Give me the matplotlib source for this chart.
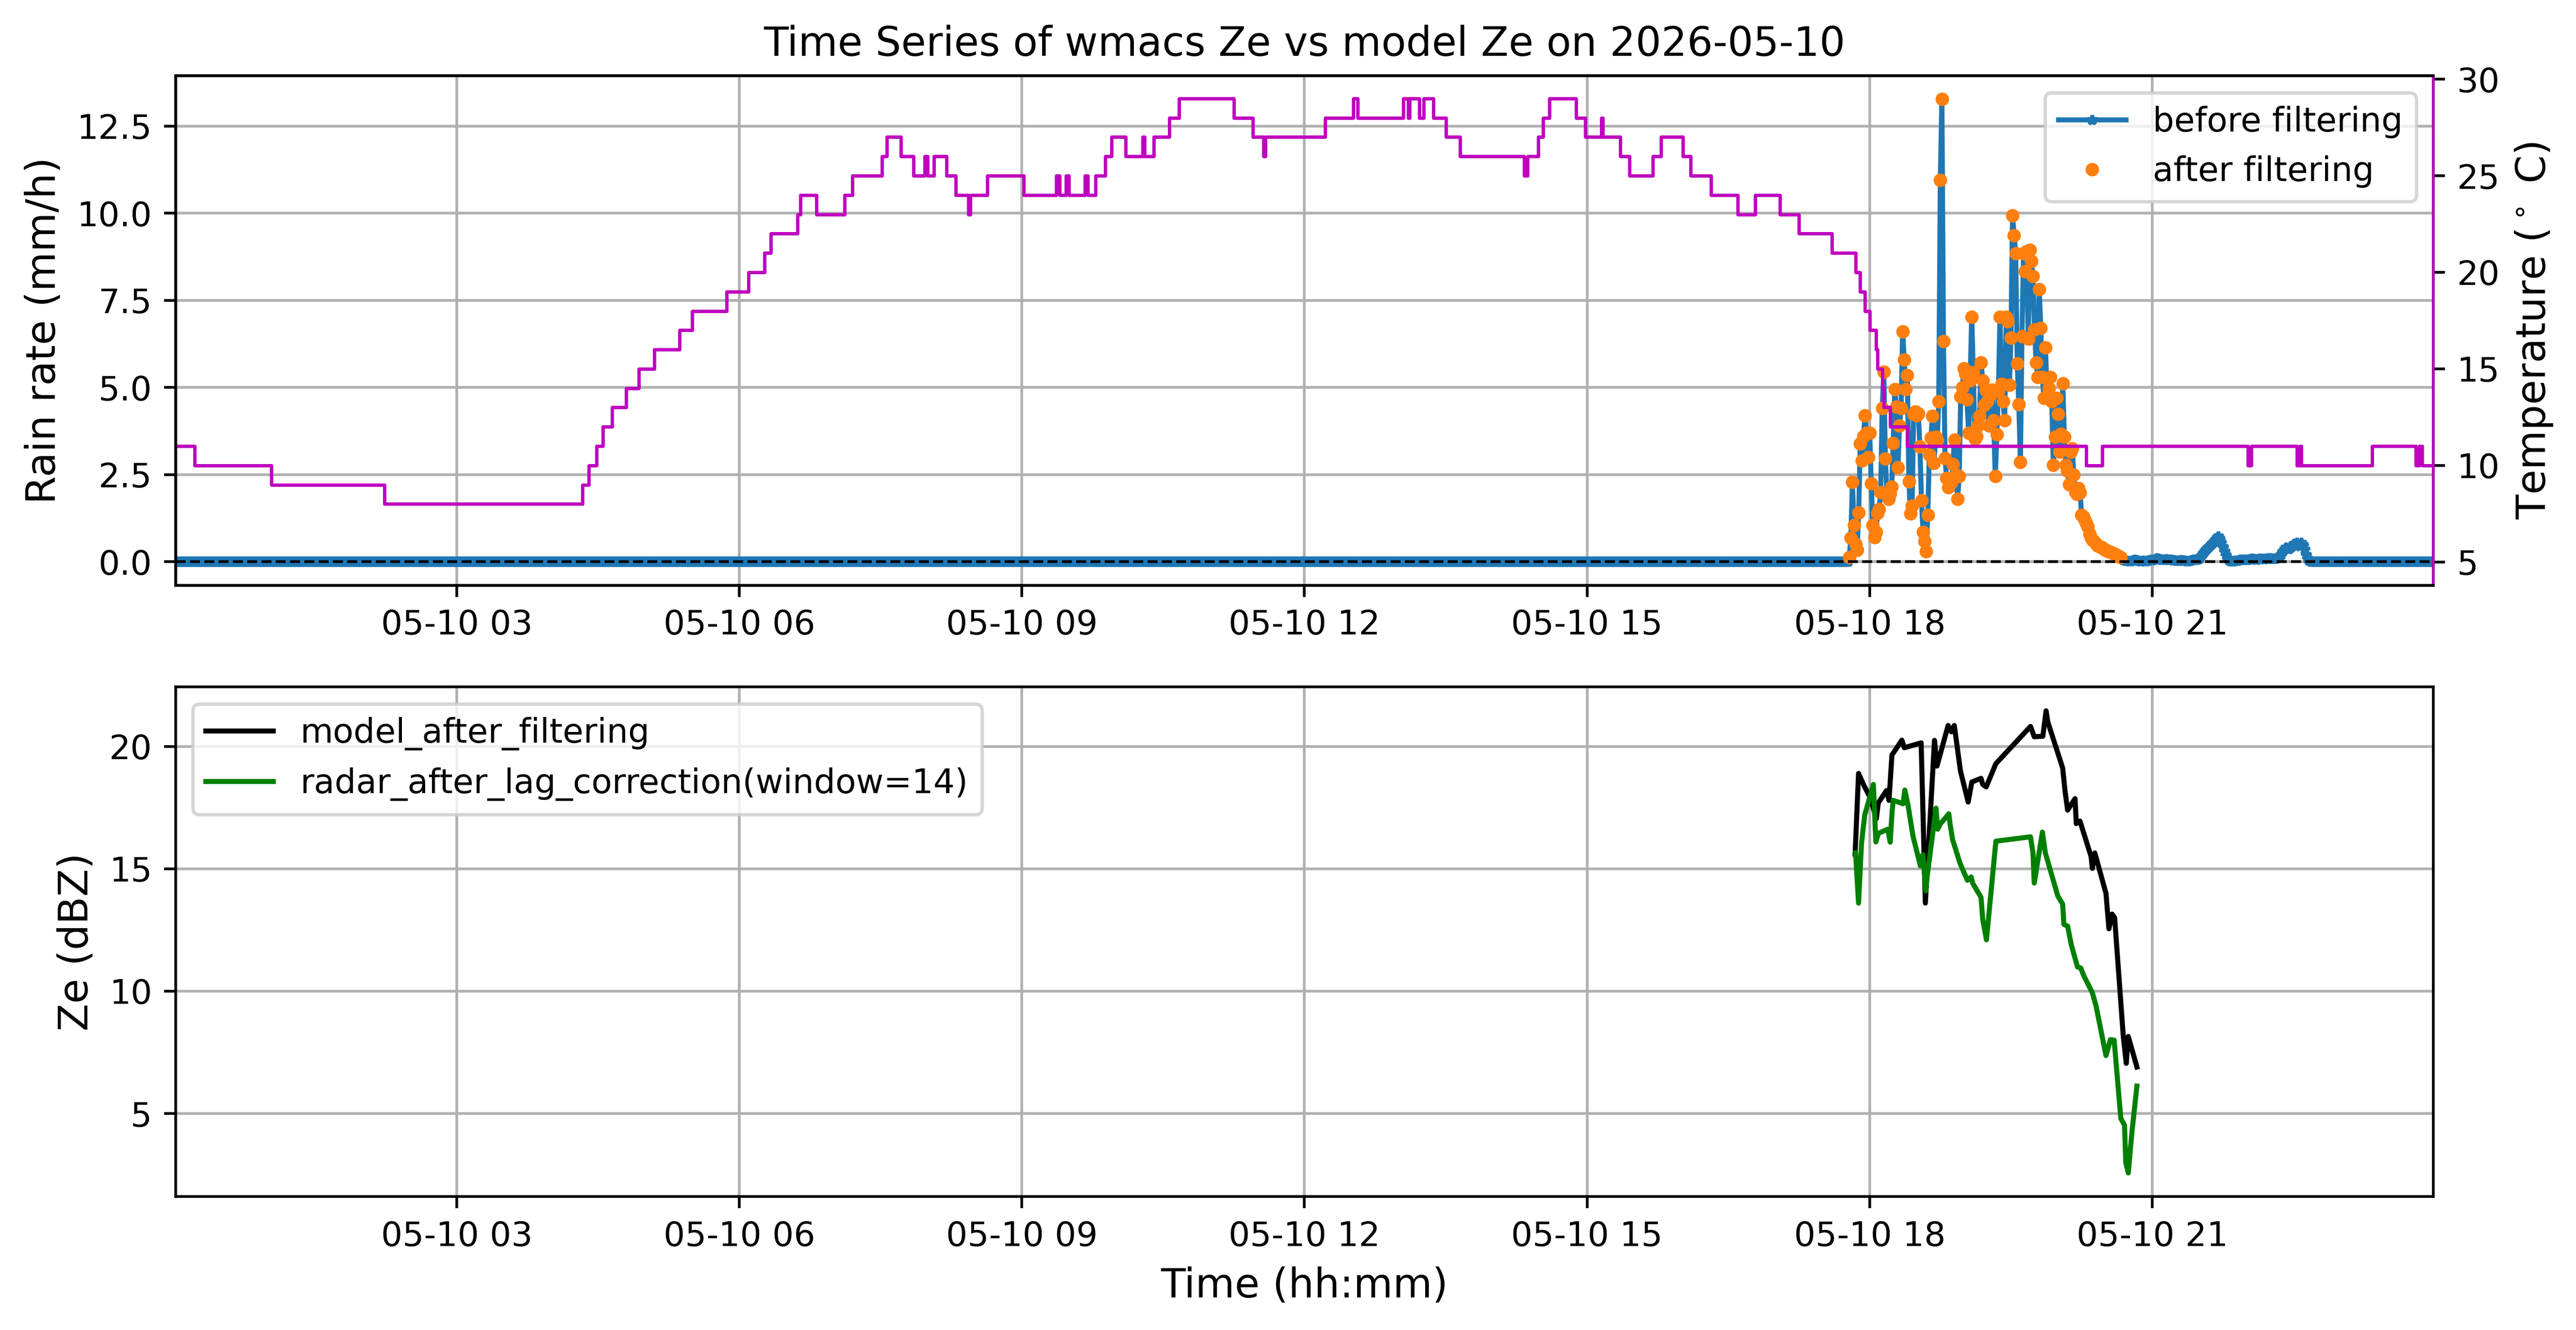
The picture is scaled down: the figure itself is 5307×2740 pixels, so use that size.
import matplotlib
matplotlib.use('Agg')
import matplotlib.pyplot as plt
import matplotlib.dates as mdates
import pandas as pd

day = '2026-05-10'

# rain rate (mm/h), one sample per minute
rain_dry_start = day + ' 00:01'
rain_dry = [0.0] * 1066          # 00:01 - 17:46, no rain at all

rain_event_start = day + ' 17:47'
rain_event = [
    0.12, 0.68, 2.29, 1.04, 0.50, 0.33, 1.41, 3.39, 2.90, 3.60, 4.20, 3.70, 3.00,
    3.70, 2.25, 1.05, 0.70, 0.85, 1.40, 1.50, 2.00, 4.40, 5.45,
    2.95, 1.95, 1.80, 1.95, 2.15, 3.40, 4.95, 4.45, 2.70, 3.90,
    4.40, 6.60, 5.80, 4.95, 5.35, 2.30, 1.38, 1.60, 4.23, 4.30,
    4.20, 4.25, 3.30, 1.75, 0.85, 0.59, 0.30, 1.34, 3.06, 3.55,
    4.18, 2.83, 3.58, 3.48, 4.60, 10.95, 13.28, 6.33, 2.97, 2.40,
    2.13, 2.35, 2.27, 2.80, 3.50, 2.50, 1.80, 2.45, 4.74, 5.00,
    5.54, 5.40, 4.65, 3.70, 5.20, 7.03, 5.44, 3.53, 3.60, 3.90,
    4.18, 5.72, 5.20, 4.50, 4.93, 4.60, 3.90, 4.80, 4.93, 4.05,
    2.45, 3.65, 4.90, 7.03, 5.10, 4.60, 4.05, 7.03, 6.90, 5.07,
    6.42, 9.93, 9.37, 8.85, 5.68, 4.51, 2.86, 6.47, 8.85, 8.34,
    8.90, 6.40, 8.95, 8.62, 8.20, 6.66, 5.72, 5.30, 7.82, 6.70,
    5.30, 4.70, 6.14, 4.70, 4.98, 5.30, 4.60, 2.78, 3.58, 4.70,
    4.23, 3.15, 3.67, 5.12, 3.58, 2.78, 2.60, 2.22, 3.15, 3.25,
    2.50, 2.00, 1.94, 2.10, 1.98, 1.34, 1.30, 1.20, 1.10, 1.00,
    0.80, 0.68, 0.62, 0.58, 0.52, 0.46, 0.44, 0.42, 0.40, 0.36,
    0.34, 0.32, 0.30, 0.28, 0.26, 0.24, 0.22, 0.20, 0.17, 0.14,
    0.12,
]

rain_tail_start = day + ' 20:41'
rain_tail = [
    0.05, 0.04, 0.03, 0.03, 0.02, 0.02, 0.03, 0.04, 0.05, 0.04,
    0.03, 0.02, 0.02, 0.03, 0.02, 0.02, 0.03, 0.04, 0.05, 0.04,
    0.06, 0.08, 0.10, 0.09, 0.07, 0.06, 0.05, 0.06, 0.07, 0.06,
    0.05, 0.05, 0.04, 0.04, 0.03, 0.03, 0.03, 0.04, 0.04, 0.03,
    0.03, 0.02, 0.02, 0.03, 0.04, 0.05, 0.06, 0.06, 0.07,
    0.08, 0.15, 0.22, 0.28, 0.33, 0.38, 0.42, 0.48, 0.52, 0.56,
    0.62, 0.68, 0.72, 0.66, 0.55, 0.42, 0.30, 0.18, 0.08, 0.03, 0.02,
    0.02, 0.02, 0.03, 0.03, 0.04, 0.05, 0.05, 0.06, 0.05, 0.05,
    0.06, 0.07, 0.08, 0.08, 0.07, 0.06, 0.07, 0.08, 0.09, 0.08,
    0.07, 0.08, 0.09, 0.10, 0.10, 0.09, 0.08, 0.09, 0.10, 0.12, 0.15,
    0.20, 0.28, 0.35, 0.40, 0.38, 0.36, 0.40, 0.45, 0.50, 0.52,
    0.55, 0.50, 0.45, 0.55, 0.48, 0.35, 0.20, 0.08, 0.03,
] + [0.0] * 79                    # 22:41 - 23:59, dry again

# temperature (deg C): time when a new value starts
temp_times = [
    '00:01', '00:13', '01:02', '02:14', '04:20', '04:24', '04:29', '04:33',
    '04:39', '04:48', '04:56', '05:06', '05:22', '05:30', '05:52', '06:06',
    '06:16', '06:20', '06:37', '06:39', '06:49', '07:07', '07:12', '07:31',
    '07:34', '07:43', '07:51', '07:58', '08:00', '08:04', '08:12', '08:18',
    '08:26', '08:27', '08:38', '09:01', '09:22', '09:24', '09:28', '09:30',
    '09:40', '09:42', '09:47', '09:53', '09:57', '10:06', '10:17', '10:18',
    '10:24', '10:34', '10:40', '11:15', '11:27', '11:34', '11:35', '12:13',
    '12:31', '12:34', '13:03', '13:06', '13:07', '13:13', '13:16', '13:22',
    '13:30', '13:39', '14:20', '14:22', '14:29', '14:32', '14:36', '14:53',
    '14:59', '15:09', '15:10', '15:21', '15:27', '15:42', '15:47', '16:01',
    '16:06', '16:19', '16:36', '16:47', '17:03', '17:15', '17:36', '17:51',
    '17:54', '17:57', '18:00', '18:04', '18:05', '18:08', '18:09', '18:13',
    '18:24', '20:18', '20:28', '22:01', '22:03', '22:32', '22:34', '22:35',
    '23:20', '23:48', '23:50', '23:52', '23:59',
]
temp_values = [
    11, 10, 9, 8, 9, 10, 11, 12,
    13, 14, 15, 16, 17, 18, 19, 20,
    21, 22, 23, 24, 23, 24, 25, 26,
    27, 26, 25, 26, 25, 26, 25, 24,
    23, 24, 25, 24, 25, 24, 25, 24,
    25, 24, 25, 26, 27, 26, 27, 26,
    27, 28, 29, 28, 27, 26, 27, 28,
    29, 28, 29, 28, 29, 28, 29, 28,
    27, 26, 25, 26, 27, 28, 29, 28,
    27, 28, 27, 26, 25, 26, 27, 26,
    25, 24, 23, 24, 23, 22, 21, 20,
    19, 18, 17, 16, 15, 14, 13, 12,
    11, 10, 11, 10, 11, 10, 11, 10,
    11, 10, 11, 10, 10,
]

# Ze (dBZ)
model_times = [
    '17:50:42', '17:52:55', '17:56:23', '18:00:28', '18:04:15', '18:05:31',
    '18:10:43', '18:12:18', '18:14:11', '18:20:29', '18:22:04', '18:32:47',
    '18:35:28', '18:41:17', '18:42:52', '18:49:58', '18:52:01', '18:53:54',
    '18:57:50', '19:02:44', '19:05:05', '19:10:55', '19:12:02', '19:14:14',
    '19:20:23', '19:42:26', '19:44:49', '19:50:19', '19:52:22', '19:53:29',
    '20:02:56', '20:04:30', '20:06:05', '20:10:49', '20:11:36', '20:13:58',
    '20:21:03', '20:21:50', '20:23:25', '20:30:31', '20:32:24', '20:34:27',
    '20:36:02', '20:41:33', '20:43:26', '20:44:42', '20:50:13',
]
model_ze = [
    15.6, 18.9, 18.4, 17.9, 17.05, 17.7,
    18.2, 17.8, 19.65, 20.26, 19.95, 20.15,
    13.6, 20.25, 19.2, 20.86, 20.6, 20.86,
    19.0, 17.73, 18.55, 18.7, 18.45, 18.35,
    19.3, 20.82, 20.4, 20.42, 21.46, 21.0,
    19.12, 18.15, 17.4, 17.87, 16.85, 16.95,
    15.5, 15.02, 15.65, 14.0, 12.55, 13.15,
    13.0, 8.15, 7.05, 8.15, 6.9,
]

radar_times = [
    '17:51:01', '17:52:55', '17:54:48', '17:56:51', '18:02:22', '18:03:56',
    '18:05:31', '18:11:30', '18:13:05', '18:14:11', '18:14:58', '18:21:17',
    '18:22:23', '18:24:26', '18:27:35', '18:32:19', '18:33:53', '18:35:47',
    '18:36:34', '18:42:14', '18:43:20', '18:44:55', '18:50:26', '18:51:13',
    '18:52:48', '18:57:32', '19:02:15', '19:04:37', '19:05:43', '19:10:55',
    '19:12:02', '19:14:23', '19:20:23', '19:42:26', '19:44:01', '19:44:49',
    '19:50:01', '19:51:54', '19:59:47', '20:02:56', '20:03:43', '20:06:05',
    '20:08:27', '20:12:23', '20:14:26', '20:16:20', '20:21:50', '20:24:13',
    '20:30:31', '20:33:21', '20:35:43', '20:39:58', '20:42:20', '20:43:07',
    '20:44:42', '20:47:04', '20:50:13',
]
radar_ze = [
    15.65, 13.6, 16.05, 17.2, 18.45, 16.1,
    16.45, 16.62, 16.09, 17.25, 17.8, 17.66,
    18.22, 17.6, 16.34, 15.12, 15.58, 14.1,
    14.67, 17.48, 16.62, 16.83, 17.25, 16.83,
    16.2, 15.23, 14.53, 14.67, 14.4, 13.84,
    12.93, 12.1, 16.13, 16.31, 15.65, 14.42,
    16.5, 15.65, 13.9, 13.56, 12.73, 12.66,
    11.89, 10.99, 10.95, 10.64, 9.94, 9.39,
    7.37, 8.02, 8.0, 4.8, 4.52, 3.0,
    2.57, 4.25, 6.12,
]


def minutes(start, values):
    return pd.date_range(start, periods=len(values), freq='min')


def clock(times):
    return pd.to_datetime([day + ' ' + t for t in times])


rain_all = rain_dry + rain_event + rain_tail
rain_t = minutes(rain_dry_start, rain_dry).append(
    minutes(rain_event_start, rain_event)).append(minutes(rain_tail_start, rain_tail))
event_t = minutes(rain_event_start, rain_event)
temp_t = clock(temp_times)

fig = plt.figure(figsize=(5307 / 500, 2740 / 500), dpi=500)
ax1 = fig.add_axes([0.0682, 0.5599, 0.8764, 0.3832])
ax3 = fig.add_axes([0.0682, 0.1004, 0.8764, 0.3832])

# top: rain rate + temperature
ax1.plot(rain_t, rain_all, '-*', color='C0', markersize=3, label='before filtering')
ax1.plot(event_t, rain_event, 'o', color='C1', markersize=3, label='after filtering')
ax1.axhline(0, color='k', linestyle='--', linewidth=0.8)
ax1.set_ylim(-0.68, 13.95)
ax1.set_ylabel('Rain rate (mm/h)', fontsize=12)
ax1.grid(True)
ax1.legend(loc='upper right')
ax1.set_title('Time Series of wmacs Ze vs model Ze on ' + day, fontsize=12)

ax2 = ax1.twinx()
ax2.plot(temp_t, temp_values, color='m', linewidth=1, drawstyle='steps-post')
ax2.set_ylim(3.79, 30.18)
ax2.set_ylabel(r'Temperature ($^\circ$ C)', fontsize=12)
ax2.spines['right'].set_color('m')

# bottom: Ze
ax3.plot(clock(model_times), model_ze, color='k', label='model_after_filtering')
ax3.plot(clock(radar_times), radar_ze, color='g', label='radar_after_lag_correction(window=14)')
ax3.set_ylim(1.61, 22.44)
ax3.set_ylabel('Ze (dBZ)', fontsize=12)
ax3.set_xlabel('Time (hh:mm)', fontsize=12)
ax3.grid(True)
ax3.legend(loc='upper left')

for ax in (ax1, ax3):
    ax.set_xlim(rain_t[0], rain_t[-1])
    ax.xaxis.set_major_locator(mdates.HourLocator(byhour=range(0, 24, 3)))
    ax.xaxis.set_major_formatter(mdates.DateFormatter('%m-%d %H'))

fig.savefig('out.png', dpi=500)
